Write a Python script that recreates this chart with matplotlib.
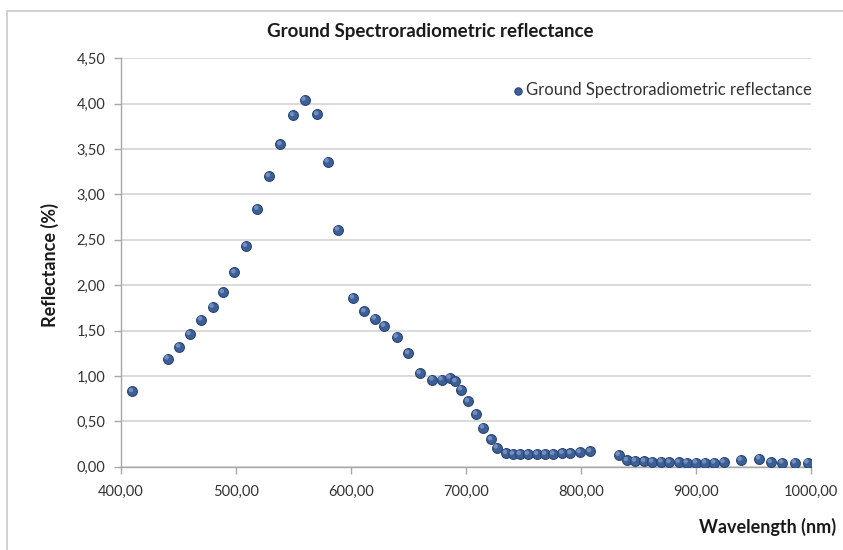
import matplotlib
matplotlib.use("Agg")
import matplotlib.pyplot as plt
from matplotlib.patches import Rectangle
import matplotlib.transforms as mtransforms

# ---- data ----
wavelength = [410, 441, 451, 460, 470, 480, 489, 499, 509, 519, 529, 539, 550, 560,
              571, 580, 589, 602, 612, 621, 629, 640, 650, 660, 671, 679, 686, 691,
              696, 702, 709, 715, 722, 727, 735, 741, 747, 754, 762, 769, 776, 784,
              791, 799, 808, 833, 840, 847, 855, 862, 870, 877, 885, 892, 900, 908,
              916, 924, 939, 955, 965, 975, 986, 997]
reflectance = [0.83, 1.19, 1.32, 1.46, 1.62, 1.76, 1.92, 2.14, 2.43, 2.84, 3.20, 3.55,
               3.87, 4.04, 3.88, 3.36, 2.61, 1.86, 1.71, 1.63, 1.55, 1.43, 1.25, 1.03,
               0.96, 0.96, 0.98, 0.94, 0.85, 0.72, 0.58, 0.43, 0.30, 0.21, 0.15, 0.14,
               0.14, 0.14, 0.14, 0.14, 0.14, 0.15, 0.15, 0.16, 0.17, 0.13, 0.07, 0.065,
               0.06, 0.055, 0.055, 0.05, 0.05, 0.045, 0.045, 0.045, 0.045, 0.05, 0.075,
               0.09, 0.05, 0.045, 0.045, 0.045]
series_name = "Ground Spectroradiometric reflectance"
title = "Ground Spectroradiometric reflectance"
xlabel = "Wavelength (nm)"
ylabel = "Reflectance (%)"
xticks = [400, 500, 600, 700, 800, 900, 1000]
yticks = [0.0, 0.5, 1.0, 1.5, 2.0, 2.5, 3.0, 3.5, 4.0, 4.5]

plt.rcParams['font.family'] = ['Lato', 'DejaVu Sans']

W, H = 843, 550
fig = plt.figure(figsize=(W / 100, H / 100), dpi=100)
fig.patch.set_facecolor('white')

# outer chart-area border (only left/top visible)
fig.patches.append(Rectangle((7 / W, -0.1), 1.2, 1 - 11 / H + 0.1,
                             transform=fig.transFigure, fill=False,
                             edgecolor='#c8c8c8', linewidth=1.2, zorder=0))

ax = fig.add_axes([120.5 / W, 1 - 466.7 / H, (811 - 120.5) / W, (466.7 - 58.1) / H])

ax.set_xlim(400, 1000)
ax.set_ylim(0, 4.5)
ax.set_xticks(xticks)
ax.set_yticks(yticks)
ax.set_xticklabels([f"{v:.2f}".replace('.', ',') for v in xticks])
ax.set_yticklabels([f"{v:.2f}".replace('.', ',') for v in yticks])

ax.grid(axis='y', color='#d4d4d4', linewidth=1.2)
ax.set_axisbelow(True)
for s in ['top', 'right']:
    ax.spines[s].set_visible(False)
for s in ['left', 'bottom']:
    ax.spines[s].set_color('#a8a8a8')
    ax.spines[s].set_linewidth(1.0)
ax.tick_params(axis='both', direction='out', length=5, width=1.0, color='#a8a8a8',
               labelsize=10.5, labelcolor='#333333')
ax.tick_params(axis='y', pad=6)
ax.tick_params(axis='x', pad=8)

sc = ax.scatter(wavelength, reflectance, s=50, color='#3d5f97', edgecolor='#2b4675',
                linewidth=0.8, zorder=3, label=series_name)
hl = mtransforms.offset_copy(ax.transData, fig=fig, x=-1.1, y=1.3, units='dots')
ax.scatter(wavelength, reflectance, s=11, color='#7f9bc6', edgecolor='none',
           alpha=0.8, zorder=4, transform=hl)

leg = ax.legend(handles=[sc], loc='center right', bbox_to_anchor=(819 / W, 1 - 90 / H),
                bbox_transform=fig.transFigure, frameon=False, fontsize=12,
                handletextpad=-0.3, handlelength=1.6, borderaxespad=0, markerscale=0.75)
for t in leg.get_texts():
    t.set_color('#333333')

fig.text(430 / W, 1 - 32 / H, title, ha='center', va='center', fontsize=13.5,
         fontweight='bold', color='#1a1a1a')
fig.text(836 / W, 1 - 527 / H, xlabel, ha='right', va='center', fontsize=13,
         fontweight='bold', color='#1a1a1a')
fig.text(50 / W, 1 - 265 / H, ylabel, ha='center', va='center', rotation=90,
         fontsize=13, fontweight='bold', color='#1a1a1a')

fig.savefig('out.png', dpi=100)
